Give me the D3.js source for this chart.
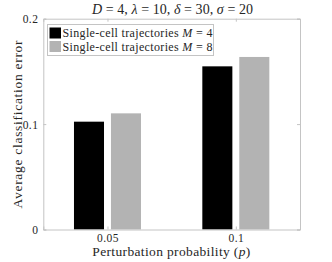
<!DOCTYPE html>
<html>
<head>
<meta charset="utf-8">
<script src="https://cdn.jsdelivr.net/npm/d3@7"></script>
<style>
body { margin: 0; background: #fff; font-family: 'Liberation Serif'; }
</style>
</head>
<body>
<div class="chart"></div>
<script>
// data
var categories = [0.05, 0.1];
var seriesNames = ["M = 4", "M = 8"];
var valuesM4 = [0.1023, 0.1548];
var valuesM8 = [0.1102, 0.1637];
var yTicks = [0, 0.1, 0.2];
var xTickLabels = ["0.05", "0.1"];
var colors = ["#000000", "#b3b3b3"];

var width = 332, height = 262;
var margin = {top: 18.7, right: 32, bottom: 32.5, left: 43.3};
var fontName = "Liberation Serif";
var textColor = "#262626";

var svg = d3.select(".chart")
	.append("svg")
	.attr("width", width)
	.attr("height", height)
	.attr("font-family", fontName)
	.style("font-family", fontName);

// spread letters so a text gets the width it has in the picture (latex font is wider)
function fitWidth(sel, target) {
	var node = sel.node();
	var len = node.getComputedTextLength();
	var n = node.textContent.length;
	if (len > 0 && n > 1) {
		sel.style("letter-spacing", ((target - len) / (n - 1)) + "px");
	}
}

var x = d3.scaleLinear()
	.domain([0.025, 0.125])
	.range([margin.left, width - margin.right]);

var y = d3.scaleLinear()
	.domain([0, 0.2])
	.range([height - margin.bottom, margin.top]);

// bar offsets in data units (matlab grouped bar look)
var barW = 0.0117, offset = 0.0072;
var series = [valuesM4, valuesM8];

series.forEach(function(vals, s) {
	svg.selectAll(".bar" + s)
		.data(categories)
		.enter()
		.append("rect")
		.attr("x", function(d) { return x(d + (s == 0 ? -offset : offset) - barW / 2); })
		.attr("width", function(d) { return x(barW) - x(0); })
		.attr("y", function(d, i) { return y(vals[i]); })
		.attr("height", function(d, i) { return y(0) - y(vals[i]); })
		.attr("fill", colors[s]);
});

// axes box
var axisColor = "#c4c4c4";
var gx = svg.append("g")
	.attr("transform", "translate(0," + y(0) + ")")
	.call(d3.axisBottom(x).tickValues(categories).tickSize(-3).tickFormat(function(d, i) { return xTickLabels[i]; }));
var gxTop = svg.append("g")
	.attr("transform", "translate(0," + y(0.2) + ")")
	.call(d3.axisTop(x).tickValues(categories).tickSize(-3).tickFormat(""));
var gy = svg.append("g")
	.attr("transform", "translate(" + x(0.025) + ",0)")
	.call(d3.axisLeft(y).tickValues(yTicks).tickSize(-3).tickFormat(function(d) { return d == 0 ? "0" : d3.format(".1f")(d); }));
var gyR = svg.append("g")
	.attr("transform", "translate(" + x(0.125) + ",0)")
	.call(d3.axisRight(y).tickValues(yTicks).tickSize(-3).tickFormat(""));

[gx, gxTop, gy, gyR].forEach(function(g) {
	g.attr("font-family", fontName).attr("font-size", 11);
	g.select(".domain").attr("stroke", axisColor).attr("stroke-width", 1);
	g.selectAll(".tick line").attr("stroke", axisColor);
	g.selectAll(".tick text")
		.style("font-family", fontName)
		.style("font-size", "11.5px")
		.attr("fill", textColor);
});
gx.selectAll(".tick text").attr("y", 0).attr("dy", "1.05em").style("letter-spacing", "0.4px");
gy.selectAll(".tick text").attr("x", -5).attr("dy", "0.35em").style("letter-spacing", "0.4px");

// title
var title = svg.append("text")
	.attr("x", 172.5)
	.attr("y", 13.5)
	.attr("text-anchor", "middle")
	.attr("fill", textColor)
	.style("font-family", fontName)
	.style("font-size", "14px");
title.append("tspan").style("font-style", "italic").text("D");
title.append("tspan").text(" = 4, ");
title.append("tspan").style("font-style", "italic").text("λ");
title.append("tspan").text(" = 10, ");
title.append("tspan").style("font-style", "italic").text("δ");
title.append("tspan").text(" = 30, ");
title.append("tspan").style("font-style", "italic").text("σ");
title.append("tspan").text(" = 20");
fitWidth(title, 161);

// axis labels
var yl = svg.append("text")
	.attr("transform", "translate(21.5," + y(0.1) + ") rotate(-90)")
	.attr("text-anchor", "middle")
	.attr("fill", textColor)
	.style("font-family", fontName)
	.style("font-size", "13.5px")
	.text("Average classification error");
fitWidth(yl, 168);

var xl = svg.append("text")
	.attr("x", 171.5)
	.attr("y", 255.5)
	.attr("text-anchor", "middle")
	.attr("fill", textColor)
	.style("font-family", fontName)
	.style("font-size", "13.5px");
xl.append("tspan").text("Perturbation probability (");
xl.append("tspan").style("font-style", "italic").text("p");
xl.append("tspan").text(")");
fitWidth(xl, 158);

// legend
var legend = svg.append("g").attr("transform", "translate(47.5,24.5)");
legend.append("rect")
	.attr("width", 166)
	.attr("height", 31)
	.attr("fill", "#fff")
	.attr("stroke", axisColor);

seriesNames.forEach(function(name, i) {
	var row = legend.append("g").attr("transform", "translate(2," + (3 + i * 13.5) + ")");
	row.append("rect")
		.attr("width", 11.5)
		.attr("height", 11)
		.attr("fill", colors[i]);
	var t = row.append("text")
		.attr("x", 13)
		.attr("y", 9.5)
		.attr("fill", textColor)
		.style("font-family", fontName)
		.style("font-size", "12px");
	t.append("tspan").text("Single-cell trajectories ");
	t.append("tspan").style("font-style", "italic").text("M");
	t.append("tspan").text(name.substring(1));
	fitWidth(t, 150);
});
</script>
</body>
</html>
